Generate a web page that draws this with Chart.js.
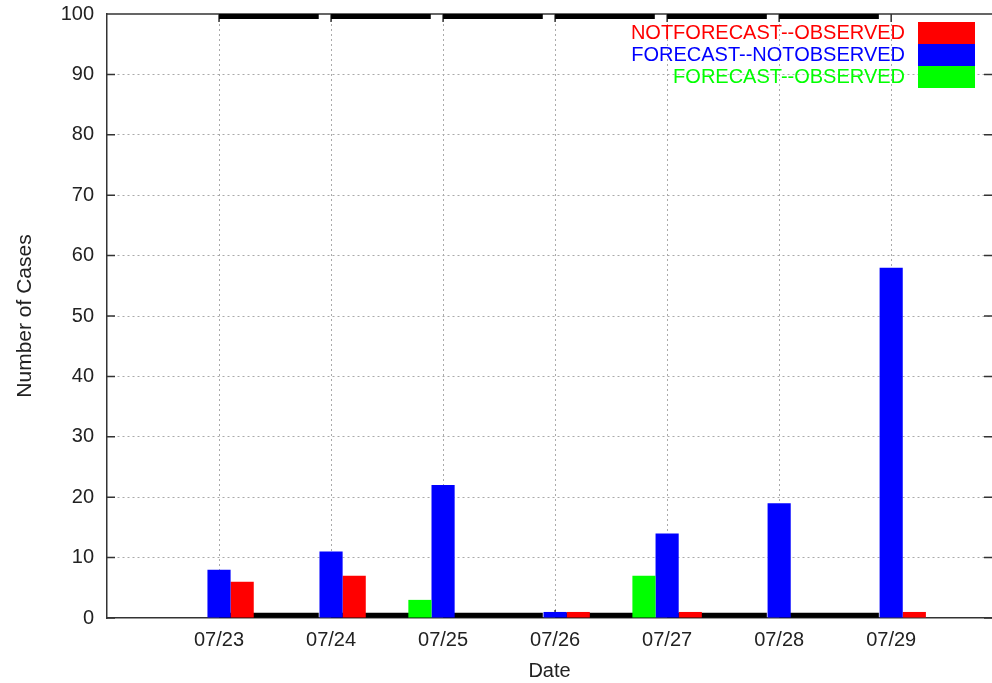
<!DOCTYPE html>
<html>
<head>
<meta charset="UTF-8" />
<title>Number of Cases by Date</title>
<script src="https://cdn.jsdelivr.net/npm/chart.js"></script>
<style>
  html, body { margin: 0; padding: 0; background: #fff; overflow: hidden; }
  #wrap { width: 992px; height: 683px; }
</style>
</head>
<body>
<div id="wrap"><canvas id="casesChart" width="992" height="683"></canvas></div>
<script>
// --- data ---
const dayNums = [23, 24, 25, 26, 27, 28, 29];
const dateLabels = ['07/23', '07/24', '07/25', '07/26', '07/27', '07/28', '07/29'];
const forecastObserved = [0, 0, 3, 0, 7, 0, 0];
const forecastNotObserved = [8, 11, 22, 1, 14, 19, 58];
const notForecastObserved = [6, 7, 0, 1, 1, 0, 1];
// black band segments: one per day, top and bottom of the frame
const bandDays = [23, 24, 25, 26, 27, 28];
const bandLength = 0.89;
const topBandLevel = 99.6;
const bottomBandLevel = 0.45;

const FONT = '"Liberation Sans", Arial, Helvetica, sans-serif';

function bars(vals) {
  return dayNums.map((d, i) => ({ x: d, y: vals[i] }));
}
function band(level) {
  const pts = [];
  bandDays.forEach(d => {
    pts.push({ x: d, y: level });
    pts.push({ x: d + bandLength, y: level });
    pts.push({ x: d + bandLength + 0.01, y: null });
  });
  return pts;
}

// gnuplot-ish frame: top border and inward tick marks
const framePlugin = {
  id: 'frame',
  beforeDatasetsDraw(chart) {
    const { ctx, chartArea: a, scales: { x, y } } = chart;
    ctx.save();
    ctx.strokeStyle = '#333';
    ctx.lineWidth = 1.5;
    ctx.beginPath();
    ctx.moveTo(a.left, a.top); ctx.lineTo(a.right, a.top);
    y.ticks.forEach(t => {
      const py = y.getPixelForValue(t.value);
      ctx.moveTo(a.left, py); ctx.lineTo(a.left + 8, py);
      ctx.moveTo(a.right, py); ctx.lineTo(a.right - 8, py);
    });
    x.ticks.forEach(t => {
      const px = x.getPixelForValue(t.value);
      ctx.moveTo(px, a.top); ctx.lineTo(px, a.top + 8);
      ctx.moveTo(px, a.bottom); ctx.lineTo(px, a.bottom - 8);
    });
    ctx.stroke();
    ctx.restore();
  },
  afterDraw(chart) {
    // key in the top right corner: right-aligned text, colour box beside it
    const { ctx } = chart;
    const sets = chart.data.datasets.filter(ds => ds.type !== 'line').slice().reverse();
    ctx.save();
    ctx.font = '20px ' + FONT;
    ctx.textAlign = 'right';
    ctx.textBaseline = 'middle';
    sets.forEach((ds, i) => {
      const top = 22 + i * 22;
      ctx.fillStyle = ds.backgroundColor;
      ctx.fillText(ds.label, 905, top + 11);
      ctx.fillRect(918, top, 57, 22);
    });
    ctx.restore();
  }
};

const ctx = document.getElementById('casesChart').getContext('2d');
new Chart(ctx, {
  type: 'bar',
  data: {
    datasets: [
      { label: 'FORECAST--OBSERVED', data: bars(forecastObserved), backgroundColor: '#00ff00', order: 1 },
      { label: 'FORECAST--NOTOBSERVED', data: bars(forecastNotObserved), backgroundColor: '#0000ff', order: 1 },
      { label: 'NOTFORECAST--OBSERVED', data: bars(notForecastObserved), backgroundColor: '#ff0000', order: 1 },
      { type: 'line', label: 'top', data: band(topBandLevel), borderColor: '#000', borderWidth: 5,
        pointRadius: 0, spanGaps: false, order: 2, borderCapStyle: 'butt' },
      { type: 'line', label: 'bottom', data: band(bottomBandLevel), borderColor: '#000', borderWidth: 5,
        pointRadius: 0, spanGaps: false, order: 2, borderCapStyle: 'butt' }
    ]
  },
  options: {
    responsive: false,
    animation: false,
    devicePixelRatio: 1,
    layout: { padding: { top: 14, left: 0, right: 0, bottom: 0 } },
    categoryPercentage: 0.62,
    barPercentage: 1.0,
    plugins: { legend: { display: false }, tooltip: { enabled: false } },
    scales: {
      x: {
        type: 'linear',
        min: 22,
        max: 29.9,
        offset: false,
        afterBuildTicks: s => { s.ticks = dayNums.map(v => ({ value: v })); },
        afterFit: s => { s.height = 65; s.paddingLeft = 0; s.paddingRight = 0; },
        ticks: {
          autoSkip: false,
          maxRotation: 0,
          padding: 10,
          color: '#222',
          font: { family: FONT, size: 20 },
          callback: v => { const i = dayNums.indexOf(v); return i >= 0 ? dateLabels[i] : ''; }
        },
        grid: { color: '#aaa', lineWidth: 1, drawTicks: false, offset: false },
        border: { color: '#333', width: 1.5, dash: [2, 3] },
        title: { display: true, text: 'Date', color: '#222', font: { family: FONT, size: 20 }, padding: { top: 0, bottom: 0 } }
      },
      y: {
        min: 0,
        max: 100,
        afterFit: s => { s.width = 107; s.paddingTop = 0; s.paddingBottom = 0; },
        ticks: { stepSize: 10, padding: 13, color: '#222', font: { family: FONT, size: 20 } },
        grid: {
          color: c => (c.tick && (c.tick.value === 0 || c.tick.value === 100)) ? 'rgba(0,0,0,0)' : '#aaa',
          lineWidth: 1, drawTicks: false
        },
        border: { color: '#333', width: 1.5, dash: [2, 3] },
        title: { display: true, text: 'Number of Cases', color: '#222', font: { family: FONT, size: 21 }, padding: { top: 13, bottom: 0 } }
      }
    }
  },
  plugins: [framePlugin]
});
</script>
</body>
</html>
